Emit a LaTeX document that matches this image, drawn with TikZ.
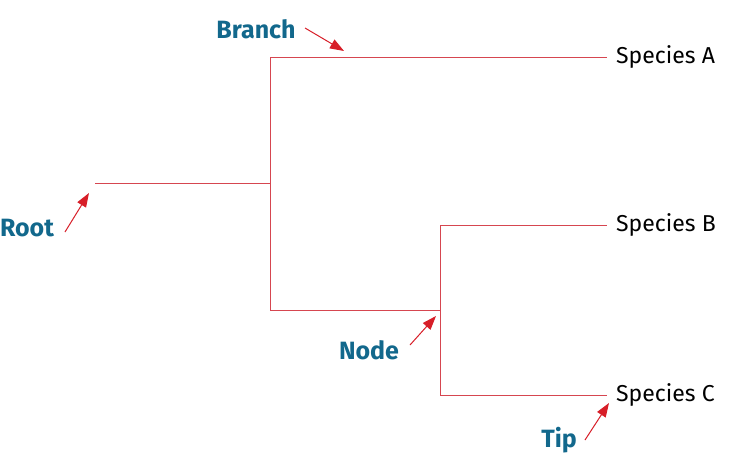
\documentclass[tikz,border=0pt]{standalone}
\usepackage{fontspec}
\setmainfont{Fira Sans}
\usetikzlibrary{arrows.meta}
\definecolor{teal}{RGB}{18,104,140}
\definecolor{tree}{RGB}{214,70,80}
\definecolor{arr}{RGB}{215,30,40}
\tikzset{
 edge/.style={draw=tree,line width=0.8pt},
 sp/.style={anchor=west,font=\fontsize{23}{25}\selectfont,inner sep=0pt},
 lab/.style={text=teal,font=\bfseries\fontsize{25}{27}\selectfont,inner sep=0pt},
 pointer/.style={draw=arr,line width=1pt,-{Triangle[length=14pt,width=10pt]}}
}
\begin{document}
\begin{tikzpicture}[x=1pt,y=-1pt]
\useasboundingbox (0,0) rectangle (744,456);
\coordinate (r) at (95,183);
\coordinate (n1) at (270,183);
\coordinate (n1t) at (270,57);
\coordinate (n1b) at (270,310);
\coordinate (n2) at (440,310);
\coordinate (n2t) at (440,225);
\coordinate (n2b) at (440,395);
\coordinate (ta) at (607,57);
\coordinate (tb) at (607,225);
\coordinate (tc) at (607,395);
\draw[edge] (r) -- (n1);
\draw[edge] (n1t) -- (n1b);
\draw[edge] (n1t) -- (ta);
\draw[edge] (n1b) -- (n2);
\draw[edge] (n2t) -- (n2b);
\draw[edge] (n2t) -- (tb);
\draw[edge] (n2b) -- (tc);
\node[sp] (A) at (616,57) {Species A};
\node[sp] (B) at (616,225) {Species B};
\node[sp] (C) at (616,395) {Species C};
\node[lab] (branch) at (256,29) {Branch};
\node[lab] (root) at (27,228) {Root};
\node[lab] (node) at (369,350) {Node};
\node[lab] (tip) at (559,440) {Tip};
\coordinate (ab) at (344,51);
\coordinate (ar) at (89,193);
\coordinate (an) at (436,316);
\coordinate (at) at (609,403);
\draw[pointer] (305,28) -- (ab);
\draw[pointer] (65,232) -- (ar);
\draw[pointer] (410,345) -- (an);
\draw[pointer] (585,440) -- (at);
\end{tikzpicture}
\end{document}
